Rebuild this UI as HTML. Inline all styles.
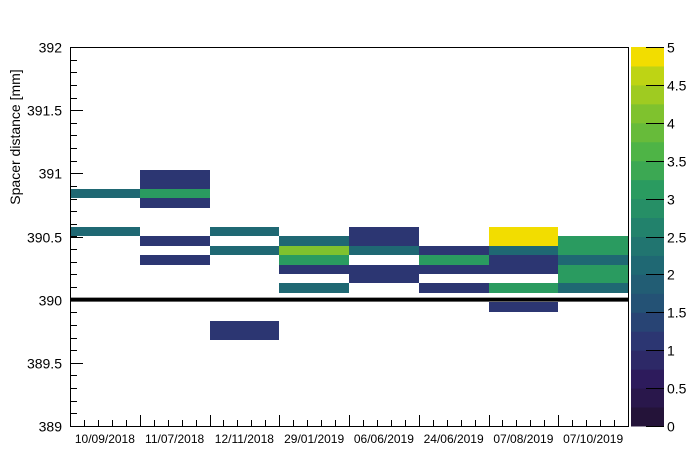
<!DOCTYPE html>
<html><head><meta charset="utf-8">
<style>
html,body{margin:0;padding:0;background:#fff;}
svg{display:block;font-family:"Liberation Sans",Arial,sans-serif;}
</style></head>
<body>
<svg id="chart" width="698" height="474" viewBox="0 0 698 474" xmlns="http://www.w3.org/2000/svg">
<rect width="698" height="474" fill="#fff"/>
<g id="cells" shape-rendering="crispEdges"></g>
<g id="axes"></g>
<g id="cbar"></g>
</svg>
<script>
// Data
const categories = ["10/09/2018","11/07/2018","12/11/2018","29/01/2019","06/06/2019","24/06/2019","07/08/2019","07/10/2019"];
const binStart = 389.003;
const binWidth = 0.075;
// cells: [column index, y-bin index, count]
const cellCols = [0,0, 1,1,1,1,1,1, 2,2,2,2, 3,3,3,3,3, 4,4,4,4,4, 5,5,5,5, 6,6,6,6,6,6,6, 7,7,7,7,7,7];
const cellBins = [24,20, 26,25,24,23,19,17, 20,18,10,9, 19,18,17,16,14, 20,19,18,16,15, 18,17,16,14, 20,19,18,17,16,14,12, 19,18,17,16,15,14];
const cellVals = [2,2, 1,1,3,1,1,1, 2,2,1,1, 2,4,3,1,2, 1,1,2,1,1, 1,3,1,1, 5,5,2,1,1,3,1, 3,3,2,3,3,2];
const yTicks = [389,389.5,390,390.5,391,391.5,392];
const yTickLabels = ["389","389.5","390","390.5","391","391.5","392"];
const zTicks = [0,0.5,1,1.5,2,2.5,3,3.5,4,4.5,5];
const zTickLabels = ["0","0.5","1","1.5","2","2.5","3","3.5","4","4.5","5"];
const refLine = 390;

const NS="http://www.w3.org/2000/svg";
const L=70,R=628,T=47,B=426,yMin=389,yMax=392,zMax=5,nBands=20;
const colW=(R-L)/categories.length;
const yS=v=>B-(v-yMin)/(yMax-yMin)*(B-T);
const xS=i=>L+i*colW;
function mk(tag,attrs,parent){const e=document.createElementNS(NS,tag);for(const k in attrs)e.setAttribute(k,attrs[k]);parent.appendChild(e);return e;}
const anchors=[[0,[36,19,57]],[2,[45,27,92]],[4,[44,54,114]],[6,[36,82,117]],[8,[31,104,115]],[10,[34,130,108]],[12,[42,155,96]],[14,[78,180,70]],[16,[127,194,46]],[18,[190,212,20]],[19,[242,221,0]]];
function bandColor(b){
  for(let i=0;i<anchors.length-1;i++){const [a,ca]=anchors[i],[c,cc]=anchors[i+1];
    if(b>=a&&b<=c){const t=(b-a)/(c-a);return 'rgb('+ca.map((v,j)=>Math.round(v+(cc[j]-v)*t)).join(',')+')';}}
  return 'rgb(242,221,0)';
}
const zColor=v=>bandColor(Math.min(nBands-1,Math.floor(v/zMax*nBands)));

const cells=document.getElementById('cells');
for(let i=0;i<cellVals.length;i++){
  const y0=binStart+cellBins[i]*binWidth;
  const yt=Math.round(yS(y0+binWidth)),yb=Math.round(yS(y0));
  const xl=Math.round(xS(cellCols[i])),xr=Math.round(xS(cellCols[i]+1));
  const r=mk('rect',{x:xl,y:yt,width:xr-xl,height:yb-yt,fill:zColor(cellVals[i])},cells);
  
  
}
const ax=document.getElementById('axes');
const ref=mk('line',{x1:L,x2:R,y1:yS(refLine),y2:yS(refLine),stroke:'#000','stroke-width':4},ax);


const fr=mk('rect',{x:L+0.5,y:T+0.5,width:R-L,height:B-T,fill:'none',stroke:'#000','stroke-width':1},ax);


// y minor ticks
for(let v=yMin;v<=yMax+1e-6;v+=0.1){const y=Math.round(yS(v))+0.5;mk('line',{x1:L,x2:L+7,y1:y,y2:y,stroke:'#000'},ax);}
yTicks.forEach((v,i)=>{const y=Math.round(yS(v))+0.5;mk('line',{x1:L,x2:L+13,y1:y,y2:y,stroke:'#000'},ax);
  const t=mk('text',{x:L-8,y:y+5,'text-anchor':'end','font-size':14,fill:'#000'},ax);t.textContent=yTickLabels[i];
  
  });
// x ticks
for(let i=0;i<=categories.length*5;i++){const x=Math.round(L+i*colW/5)+0.5;const h=i%5===0?11:6;mk('line',{x1:x,x2:x,y1:B,y2:B-h,stroke:'#000'},ax);}
categories.forEach((c,i)=>{const t=mk('text',{x:xS(i)+colW/2,y:443,'text-anchor':'middle','font-size':12,fill:'#000'},ax);t.textContent=c;
  
  });
const yt=mk('text',{x:0,y:0,transform:'translate(20,137) rotate(-90)','text-anchor':'middle','font-size':14,fill:'#000'},ax);
yt.textContent='Spacer distance [mm]';


// colorbar
const cb=document.getElementById('cbar');
const cx0=631,cx1=664,bh=(B-T)/nBands;
for(let b=0;b<nBands;b++){const r=mk('rect',{x:cx0,y:B-(b+1)*bh,width:cx1-cx0,height:bh+0.5,fill:bandColor(b)},cb);
  
  }
zTicks.forEach((v,i)=>{const y=Math.round(B-v/zMax*(B-T))+0.5;mk('line',{x1:cx1-18,x2:cx1,y1:y,y2:y,stroke:'#000'},cb);
  const t=mk('text',{x:cx1+3,y:y+5,'font-size':14,fill:'#000'},cb);t.textContent=zTickLabels[i];
  
  });
</script>
</body></html>
